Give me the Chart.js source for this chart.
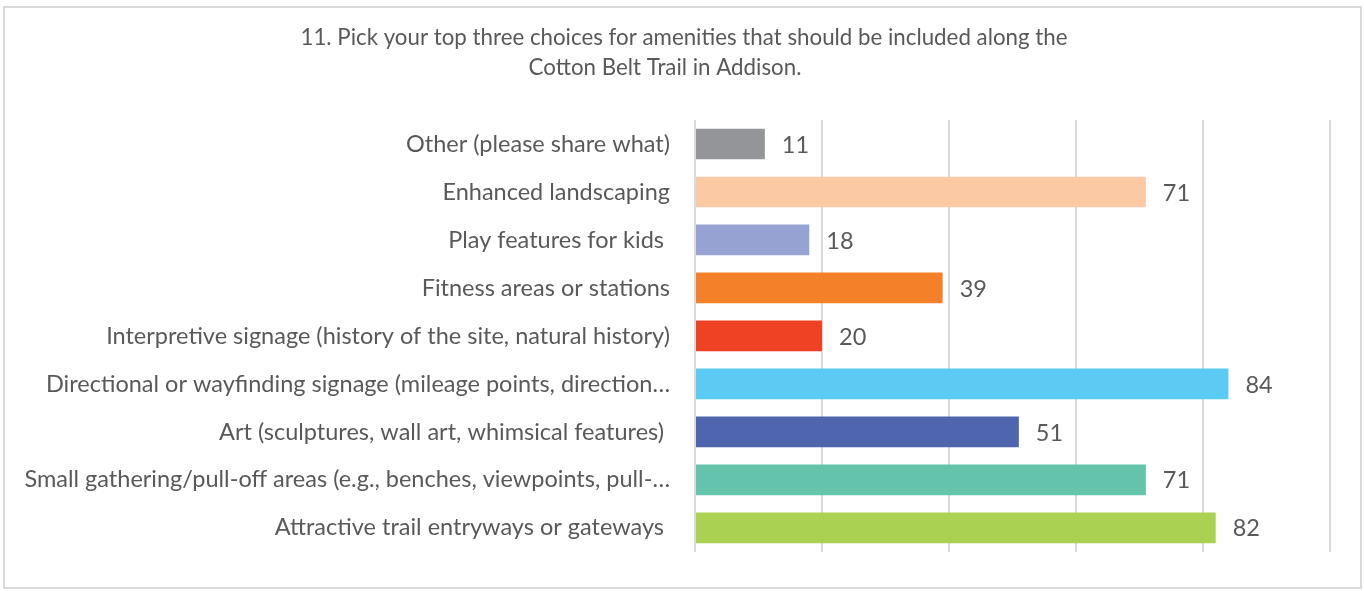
<!DOCTYPE html>
<html>
<head>
<meta charset="utf-8">
<script src="https://cdn.jsdelivr.net/npm/chart.js@4"></script>
<style>
  html, body { margin: 0; padding: 0; background: #fff; }
  #wrap { width: 1364px; height: 591px; }
</style>
</head>
<body>
<div id="wrap"><canvas id="amenityChart" width="1364" height="591"></canvas></div>
<script>
const titleLines = [
  "11. Pick your top three choices for amenities that should be included along the",
  "Cotton Belt Trail in Addison."
];

const categories = [
  "Other (please share what)",
  "Enhanced landscaping",
  "Play features for kids ",
  "Fitness areas or stations",
  "Interpretive signage (history of the site, natural history)",
  "Directional or wayfinding signage (mileage points, direction\u2026",
  "Art (sculptures, wall art, whimsical features) ",
  "Small gathering/pull-off areas (e.g., benches, viewpoints, pull-\u2026",
  "Attractive trail entryways or gateways "
];

const responses = [11, 71, 18, 39, 20, 84, 51, 71, 82];

const barColors = [
  "#939598", "#fbcaa4", "#96a3d2", "#f4812a", "#ef4123",
  "#5bcbf4", "#4f66ae", "#63c4ab", "#abd153"
];

const axisTicks = [0, 20, 40, 60, 80, 100];

const textColor = "#595959";
const fontFamily = "Lato, 'Open Sans', sans-serif";

// frame + title + value labels
const decorPlugin = {
  id: "decor",
  beforeDraw(chart) {
    const ctx = chart.ctx;
    ctx.save();
    ctx.strokeStyle = "#d9d9d9";
    ctx.lineWidth = 2;
    ctx.strokeRect(4, 7, 1357, 581);
    ctx.fillStyle = textColor;
    ctx.font = "22.3px " + fontFamily;
    ctx.textAlign = "center";
    ctx.textBaseline = "middle";
    ctx.fillText(titleLines[0], 684, 38);
    ctx.fillText(titleLines[1], 665, 68);
    ctx.restore();
  },
  afterDatasetsDraw(chart) {
    const ctx = chart.ctx;
    const meta = chart.getDatasetMeta(0);
    ctx.save();
    ctx.fillStyle = textColor;
    ctx.font = "23.5px " + fontFamily;
    ctx.textAlign = "left";
    ctx.textBaseline = "middle";
    meta.data.forEach((bar, i) => {
      ctx.fillText(String(responses[i]), bar.x + 17, bar.y + 1);
    });
    ctx.restore();
  }
};

new Chart(document.getElementById("amenityChart"), {
  type: "bar",
  data: {
    labels: categories,
    datasets: [{
      data: responses,
      backgroundColor: barColors,
      barPercentage: 0.64,
      categoryPercentage: 1
    }]
  },
  options: {
    indexAxis: "y",
    responsive: false,
    animation: false,
    devicePixelRatio: 1,
    layout: { padding: { left: 0, right: 34, top: 120, bottom: 35 } },
    plugins: {
      legend: { display: false },
      title: { display: false },
      tooltip: { enabled: false }
    },
    scales: {
      x: {
        min: axisTicks[0],
        max: axisTicks[axisTicks.length - 1],
        afterBuildTicks(scale) {
          scale.ticks = axisTicks.map(v => ({ value: v }));
        },
        ticks: { display: false },
        grid: { color: "#d9d9d9", lineWidth: 2, drawTicks: false },
        border: { display: false }
      },
      y: {
        afterFit(scale) { scale.width = 695; },
        ticks: {
          color: textColor,
          font: { family: fontFamily, size: 23.5 },
          padding: 25,
          autoSkip: false
        },
        grid: { display: false, drawTicks: false },
        border: { display: false }
      }
    }
  },
  plugins: [decorPlugin]
});
</script>
</body>
</html>
